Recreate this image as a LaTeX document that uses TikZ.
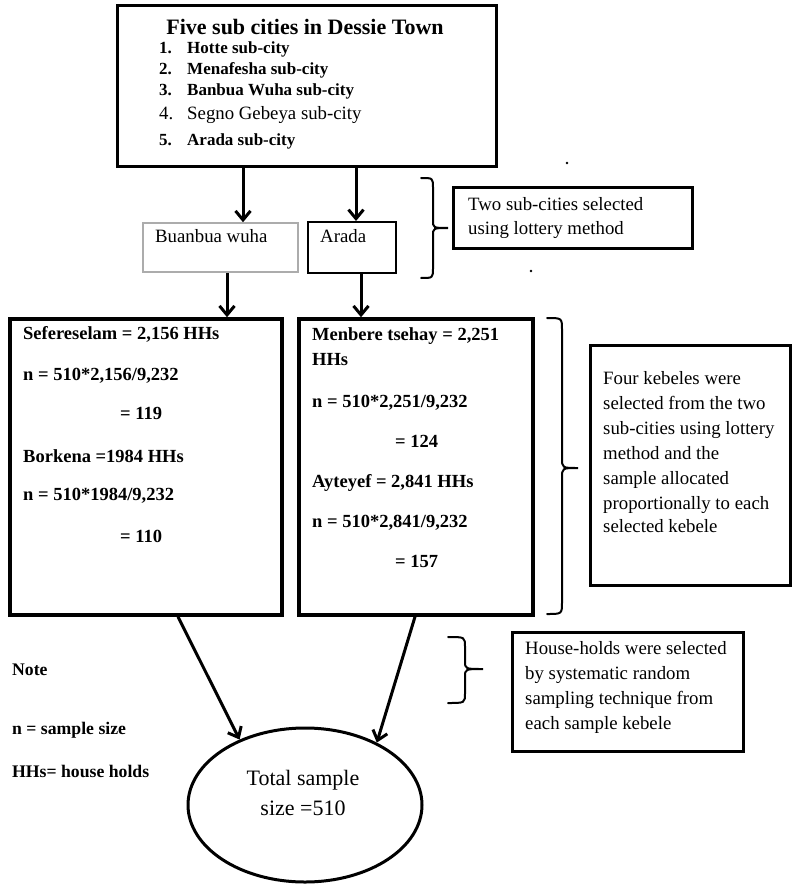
\documentclass[tikz,border=0pt]{standalone}
\usepackage{fontspec}
\setmainfont{Liberation Serif}
\usetikzlibrary{arrows.meta,shapes.geometric}
\tikzset{
  bx/.style={draw, line width=3pt, inner sep=0pt},
  arr/.style={line width=3pt, -{Straight Barb[length=9pt,width=15pt]}},
  brc/.style={line width=2pt, line cap=round},
  tx/.style={inner sep=0pt, anchor=mid west},
  rtext/.style={font=\fontsize{18.8}{25}\selectfont},
  btext/.style={font=\bfseries\fontsize{18.5}{22}\selectfont},
  ltext/.style={font=\bfseries\fontsize{17}{20}\selectfont},
  ntext/.style={font=\bfseries\fontsize{17.7}{20}\selectfont},
  dot/.style={circle, fill, inner sep=0pt, minimum size=2.6pt}
}
\begin{document}
\begin{tikzpicture}[x=1pt,y=-1pt]
\fill[white] (0,0) rectangle (797,885);
\useasboundingbox (0,0) rectangle (797,885);

% top box
\node[bx, minimum width=379pt, minimum height=161pt] (top) at (306.5,86.5) {};
\node[inner sep=0pt, font=\bfseries\fontsize{22}{26}\selectfont] (title) at (305,27) {Five sub cities in Dessie Town};
\node[tx, ltext] (n1) at (159,51) {1.};
\node[tx, ltext] (i1) at (187,51) {Hotte sub-city};
\node[tx, ltext] (n2) at (159,72) {2.};
\node[tx, ltext] (i2) at (187,72) {Menafesha sub-city};
\node[tx, ltext] (n3) at (159,93) {3.};
\node[tx, ltext] (i3) at (187,93) {Banbua Wuha sub-city};
\node[tx, rtext] (n4) at (159,117) {4.};
\node[tx, rtext] (i4) at (187,117) {Segno Gebeya sub-city};
\node[tx, ltext] (n5) at (159,143) {5.};
\node[tx, ltext] (i5) at (187,143) {Arada sub-city};

% selected sub-cities
\node[draw=gray!65, line width=1.5pt, inner sep=0pt, minimum width=155pt, minimum height=49pt] (bw) at (220.5,247.5) {};
\node[tx, rtext] (bwt) at (155,240) {Buanbua wuha};
\node[draw, line width=2pt, inner sep=0pt, minimum width=88pt, minimum height=51pt] (ar) at (352,247.5) {};
\node[tx, rtext] (art) at (320,240) {Arada};

\coordinate (x1) at (243,0);
\coordinate (x2) at (356,0);
\coordinate (x3) at (227,0);
\coordinate (x4) at (361,0);
\coordinate (x5) at (178,0);
\coordinate (x6) at (415,0);

\draw[arr] (top.south -| x1) -- (bw.north -| x1);
\draw[arr] (top.south -| x2) -- (ar.north -| x2);

% brace 1 and note box
\draw[brc] (421,178) .. controls (433,178) .. (433,188) -- (433,220)
  .. controls (433,228) .. (448,228) .. controls (433,228) .. (433,236)
  -- (433,268) .. controls (433,278) .. (421,278);
\node[bx, minimum width=239pt, minimum height=60pt] (two) at (572.5,218) {};
\node[tx, rtext] (two1) at (468,208) {Two sub-cities selected};
\node[tx, rtext] (two2) at (468,232) {using lottery method};
\node[dot] (d1) at (567,163) {};
\node[dot] (d2) at (531,271) {};

% kebele boxes
\node[draw, line width=3.5pt, inner sep=0pt, minimum width=272pt, minimum height=296pt] (lb) at (146,467) {};
\node[draw, line width=3.5pt, inner sep=0pt, minimum width=234pt, minimum height=296pt] (rbx) at (416,467) {};
\draw[arr] (bw.south -| x3) -- (lb.north -| x3);
\draw[arr] (ar.south -| x4) -- (rbx.north -| x4);

\node[tx, btext] (l1) at (23,337) {Sefereselam = 2,156 HHs};
\node[tx, btext] (l2) at (23,378) {n = 510*2,156/9,232};
\node[tx, btext] (l3) at (120,417) {= 119};
\node[tx, btext] (l4) at (23,460) {Borkena =1984 HHs};
\node[tx, btext] (l5) at (23,498) {n = 510*1984/9,232};
\node[tx, btext] (l6) at (120,540) {= 110};

\node[tx, btext] (r1) at (312,338) {Menbere tsehay = 2,251};
\node[tx, btext] (r2) at (312,363) {HHs};
\node[tx, btext] (r3) at (312,405) {n = 510*2,251/9,232};
\node[tx, btext] (r4) at (395,445) {= 124};
\node[tx, btext] (r5) at (312,485) {Ayteyef = 2,841 HHs};
\node[tx, btext] (r6) at (312,525) {n = 510*2,841/9,232};
\node[tx, btext] (r7) at (395,565) {= 157};

% brace 2 and note box
\draw[brc] (547,318) .. controls (562,318) .. (562,330) -- (562,458)
  .. controls (562,468) .. (578,468) .. controls (562,468) .. (562,478)
  -- (562,602) .. controls (562,614) .. (547,614);
\node[bx, minimum width=200pt, minimum height=240pt] (four) at (690,465) {};
\node[tx, rtext] (f1) at (603,382) {Four kebeles were};
\node[tx, rtext] (f2) at (603,407) {selected from the two};
\node[tx, rtext] (f3) at (603,432) {sub-cities using lottery};
\node[tx, rtext] (f4) at (603,457) {method and the};
\node[tx, rtext] (f5) at (603,482) {sample allocated};
\node[tx, rtext] (f6) at (603,507) {proportionally to each};
\node[tx, rtext] (f7) at (603,530) {selected kebele};

% total
\node[draw, ellipse, line width=3pt, inner sep=0pt, minimum width=234pt, minimum height=154pt] (ell) at (305,805) {};
\node[inner sep=0pt, font=\fontsize{22}{27}\selectfont] (tot1) at (303,780) {Total sample};
\node[inner sep=0pt, font=\fontsize{22}{27}\selectfont] (tot2) at (303,808) {size =510};
\draw[arr] (lb.south -| x5) -- (ell.135);
\draw[arr] (rbx.south -| x6) -- (ell.41);

% brace 3 and note box
\draw[brc] (448,637) .. controls (465,637) .. (465,647) -- (465,661)
  .. controls (465,669) .. (483,669) .. controls (465,669) .. (465,677)
  -- (465,693) .. controls (465,703) .. (448,703);
\node[bx, minimum width=231pt, minimum height=119pt] (hh) at (627.5,691.5) {};
\node[tx, rtext] (h1) at (525,652) {House-holds were selected};
\node[tx, rtext] (h2) at (525,677) {by systematic random};
\node[tx, rtext] (h3) at (525,702) {sampling technique from};
\node[tx, rtext] (h4) at (525,727) {each sample kebele};

% legend
\node[tx, ntext] (note) at (12,673) {Note};
\node[tx, ntext] (lg1) at (12,732) {n = sample size};
\node[tx, ntext] (lg2) at (12,775) {HHs= house holds};
\end{tikzpicture}
\end{document}
